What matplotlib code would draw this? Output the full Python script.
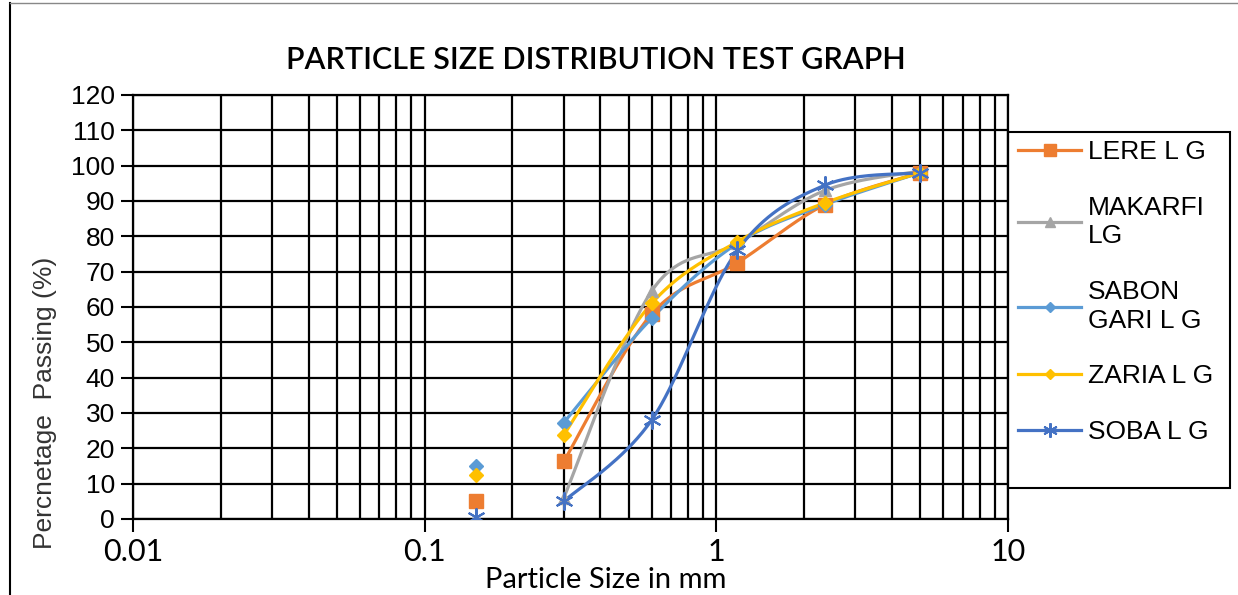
"""
Particle size distribution (grading curves) for five LG sand samples,
plotted on a log sieve-size axis with Excel-style smoothed lines.
"""
import numpy as np
import matplotlib
matplotlib.use("Agg")
import matplotlib.pyplot as plt
from matplotlib.lines import Line2D
from matplotlib.patches import Rectangle
from matplotlib.ticker import LogLocator, FixedLocator, NullFormatter

# sieve sizes (mm); the finest sieve is plotted as loose markers only
sieves = [0.15, 0.3, 0.6, 1.18, 2.36, 5.0]

labels = ["LERE L G", "MAKARFI\nLG", "SABON\nGARI L G", "ZARIA L G", "SOBA L G"]
lere = [5.0, 16.3, 58.0, 72.5, 89.0, 98.0]
makarfi = [0.0, 6.0, 64.5, 78.0, 93.0, 98.5]
sabon_gari = [15.0, 27.3, 56.8, 78.0, 89.0, 98.0]
zaria = [12.5, 23.8, 61.0, 78.5, 89.5, 98.0]
soba = [0.5, 5.0, 28.0, 76.0, 94.5, 98.0]

series = [lere, makarfi, sabon_gari, zaria, soba]
colors = ["#ED7D31", "#A5A5A5", "#5B9BD5", "#FFC000", "#4472C4"]
markers = ["s", "^", "D", "D", (6, 2, 0)]
msizes = [10, 9, 7, 7, 13]

NARROW = ["Lato", "Liberation Sans", "DejaVu Sans"]
plt.rcParams["font.family"] = ["Liberation Sans", "DejaVu Sans"]

# pixel scale of the reference plot area, used to smooth like Excel does
PX_DECADE, PX_UNIT = 291.7, 3.533


def smooth(xs, ys, n=40):
    """Catmull-Rom curve through the points, computed in screen-like space."""
    u = np.log10(xs) * PX_DECADE
    v = np.asarray(ys, dtype=float) * PX_UNIT
    P = np.column_stack([u, v])
    out = []
    for i in range(len(P) - 1):
        p0 = P[i - 1] if i > 0 else P[i]
        p1, p2 = P[i], P[i + 1]
        p3 = P[i + 2] if i + 2 < len(P) else P[i + 1]
        c1 = p1 + (p2 - p0) / 6.0
        c2 = p2 - (p3 - p1) / 6.0
        t = np.linspace(0, 1, n)[:, None]
        seg = ((1 - t) ** 3) * p1 + 3 * ((1 - t) ** 2) * t * c1 + 3 * (1 - t) * t ** 2 * c2 + t ** 3 * p2
        out.append(seg if i == 0 else seg[1:])
    out = np.vstack(out)
    return 10 ** (out[:, 0] / PX_DECADE), out[:, 1] / PX_UNIT


W, H = 1238, 595
fig = plt.figure(figsize=(W / 100, H / 100), dpi=100)
ax = fig.add_axes([133 / W, 76 / H, 875 / W, 424 / H])

handles = []
for vals, col, mk, ms in zip(series, colors, markers, msizes):
    sx, sy = smooth(sieves[1:], vals[1:])
    ax.plot(sx, sy, color=col, lw=2.3, zorder=3)
    mew = 1.5 if mk == (6, 2, 0) else 1
    ax.plot(sieves, vals, ls="none", marker=mk, ms=ms, color=col, mec=col, mew=mew, zorder=4)
    handles.append(Line2D([], [], color=col, lw=2.3, marker=mk, ms=ms * 0.8, mec=col, mew=mew))

ax.set_xscale("log")
ax.set_xlim(0.01, 10)
ax.set_ylim(0, 120)
ax.yaxis.set_major_locator(FixedLocator(np.arange(0, 121, 10)))
ax.xaxis.set_major_locator(FixedLocator([0.01, 0.1, 1, 10]))
ax.xaxis.set_minor_locator(LogLocator(base=10, subs=np.arange(2, 10)))
ax.xaxis.set_minor_formatter(NullFormatter())
ax.set_xticklabels(["0.01", "0.1", "1", "10"], family=NARROW, fontsize=22)
ax.tick_params(axis="y", labelsize=19, length=9, width=1.5, direction="out", pad=4)
ax.tick_params(axis="x", which="major", length=9, width=1.5, direction="out", pad=5)
ax.tick_params(axis="x", which="minor", length=0)

ax.grid(True, which="major", color="black", lw=1.6)
ax.grid(True, which="minor", axis="x", color="black", lw=1.6)
ax.set_axisbelow(True)
for sp in ax.spines.values():
    sp.set_linewidth(1.6)

ax.set_xlabel("Particle Size in mm", family=NARROW, fontsize=21, va="center")
ax.xaxis.set_label_coords((606 - 133) / 875, -61 / 424)
ax.set_ylabel("Percnetage  Passing (%)", fontsize=19, color="#333333", va="center")
ax.yaxis.set_label_coords((45 - 133) / 875, (H - 403 - 76) / 424)

fig.text(596 / W, 1 - 60 / H, "PARTICLE SIZE DISTRIBUTION TEST GRAPH",
         family=NARROW, fontsize=22, weight="semibold", ha="center", va="center")

# legend entries without frame; the box is drawn separately (Excel pads the bottom)
leg = ax.legend(handles, labels, loc="upper left",
                bbox_to_anchor=(1010 / W, 1 - 132 / H), bbox_transform=fig.transFigure,
                fontsize=19, frameon=False,
                handlelength=2.4, handletextpad=0.25, labelspacing=1.2,
                borderpad=0.3, borderaxespad=0)
for txt in leg.get_texts():
    txt.set_linespacing(1.25)
fig.add_artist(Rectangle((1008 / W, 1 - 488 / H), 222 / W, 356 / H,
                         transform=fig.transFigure, fill=False, ec="black", lw=1.5))

# outer chart border (left and top edges are visible in the reference)
fig.add_artist(Line2D([10 / W, 10 / W], [0, 592 / H], color="black", lw=1.5))
fig.add_artist(Line2D([10 / W, 1], [592 / H, 592 / H], color="#888888", lw=1))

fig.savefig("out.png", dpi=100)
